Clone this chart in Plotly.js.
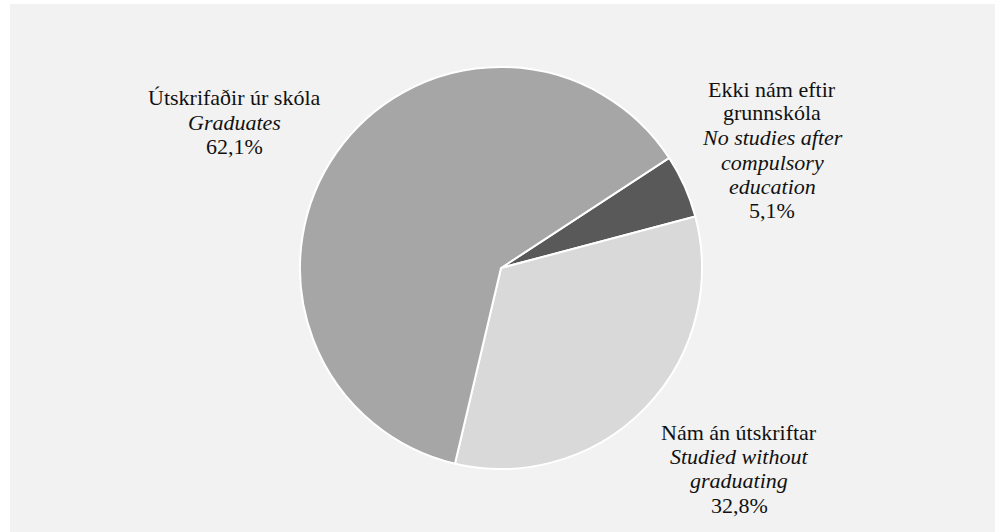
<!DOCTYPE html>
<html>
<head>
<meta charset="utf-8">
<script src="https://cdn.plot.ly/plotly-3.0.1.min.js"></script>
<style>
  html, body { margin: 0; padding: 0; background: #ffffff; width: 999px; height: 532px; overflow: hidden; }
  #chart { position: absolute; left: 10px; top: 4px; width: 985px; height: 528px; }
</style>
</head>
<body>
<div id="chart"></div>
<script>
// ---- data ----
var categoriesIs = ['Ekki nám eftir<br>grunnskóla', 'Nám án útskriftar', 'Útskrifaðir úr skóla'];
var categoriesEn = ['No studies after<br>compulsory<br>education', 'Studied without<br>graduating', 'Graduates'];
var values = [5.1, 32.8, 62.1];
var sliceColors = ['#595959', '#d9d9d9', '#a6a6a6'];

// ---- layout config (page pixel positions of label blocks) ----
var W = 985, H = 528, OX = 10, OY = 4;
var labelPos = [
  { x: 772, ys: [89, 113, 137, 162, 186, 210] },
  { x: 739, ys: [432, 456, 480, 505] },
  { x: 234, ys: [98, 122.5, 147] }
];
var pieCenter = { x: 501, y: 268 }, pieR = 201;

function px2x(px) { return (px - OX) / W; }
function py2y(py) { return 1 - (py - OY) / H; }
function fmtPct(v) { return v.toFixed(1).replace('.', ',') + '%'; }

var fontFamily = 'Liberation Serif, Tinos, Times New Roman, Times, DejaVu Serif, serif';
var font = { family: fontFamily, size: 22, color: '#111111' };

var annotations = [];
for (var i = 0; i < values.length; i++) {
  var lines = [];
  categoriesIs[i].split('<br>').forEach(function (t) { lines.push(t); });
  categoriesEn[i].split('<br>').forEach(function (t) { lines.push('<i>' + t + '</i>'); });
  lines.push(fmtPct(values[i]));
  for (var j = 0; j < lines.length; j++) {
    annotations.push({
      xref: 'paper', yref: 'paper',
      x: px2x(labelPos[i].x), y: py2y(labelPos[i].ys[j]),
      xanchor: 'center', yanchor: 'middle',
      text: lines[j], showarrow: false,
      font: { family: font.family, size: font.size, color: font.color }
    });
  }
}

var trace = {
  type: 'pie',
  values: values,
  labels: categoriesIs.map(function (s) { return s.replace('<br>', ' '); }),
  sort: false,
  direction: 'clockwise',
  rotation: 56.8,
  textinfo: 'none',
  hoverinfo: 'none',
  marker: { colors: sliceColors, line: { color: '#ffffff', width: 2 } },
  domain: {
    x: [px2x(pieCenter.x - pieR), px2x(pieCenter.x + pieR)],
    y: [py2y(pieCenter.y + pieR), py2y(pieCenter.y - pieR)]
  }
};

var layout = {
  width: W, height: H,
  margin: { l: 0, r: 0, t: 0, b: 0 },
  paper_bgcolor: '#f2f2f2',
  font: { family: fontFamily, size: 22, color: '#111111' },
  showlegend: false,
  annotations: annotations
};

Plotly.newPlot('chart', [trace], layout, { displayModeBar: false, staticPlot: true });
</script>
</body>
</html>
